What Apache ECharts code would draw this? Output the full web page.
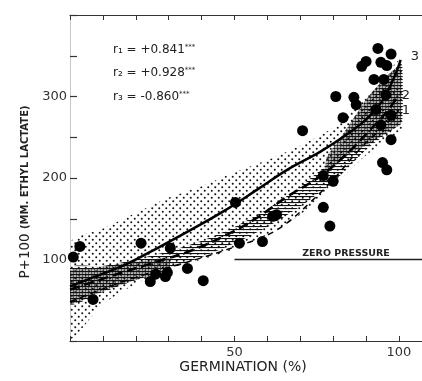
<!DOCTYPE html>
<html><head><meta charset="utf-8">
<script src="https://cdn.jsdelivr.net/npm/echarts@6/dist/echarts.min.js"></script>
<style>html,body{margin:0;padding:0;background:#fff}#c{width:422px;height:381px}</style>
</head><body><div id="c"></div>
<script>
// ---- data ----
const xLabels = ['50', '100'];
const yLabels = ['100', '200', '300'];

// curve 3 (solid)
const c3X = [0, 7, 17, 27, 37, 47, 57, 66, 76, 84, 90, 95, 99, 100.5];
const c3Y = [67, 78, 94, 115, 137, 160, 186, 210, 232, 253, 272, 295, 328, 345];
// curve 2 (long dash)
const c2X = [0, 12, 27, 37.5, 48, 56, 66, 76, 84.5, 90.5, 96, 100];
const c2Y = [63, 79, 98, 112, 131, 149, 177, 202, 231, 256, 280, 302];
// curve 1 (short dash)
const c1X = [0, 10, 20, 30.5, 40, 52, 59, 66, 73, 80, 88, 95, 100];
const c1Y = [48, 64, 78, 91, 102, 118, 128, 145, 170, 198, 235, 262, 283];

// stippled confidence region
const bandX = [0, 10, 20, 30, 40, 50, 60, 70, 80, 90, 100, 101];
const stipHi = [120, 138, 157, 176, 190, 207, 222, 240, 262, 300, 345, 345];
const stipLo = [3, 45, 70, 88, 100, 113, 130, 155, 190, 228, 255, 258];
// hatched band around curve 2
const hatchHi = [90, 92, 100, 110, 123, 140, 162, 190, 225, 290, 335, 338];
const hatchLo = [45, 60, 75, 88, 103, 120, 140, 165, 195, 235, 265, 268];
// dense dark zones
const darkLX = [0, 8, 16, 24, 30];
const darkLHi = [86, 90, 95, 99, 102];
const darkLLo = [46, 58, 70, 79, 85];
const darkRX = [78, 82, 86, 90, 95, 99, 100.5];
const darkRHi = [225, 248, 272, 296, 320, 335, 338];
const darkRLo = [205, 220, 232, 240, 252, 262, 266];

// observations
const germX = [3, 1, 7, 21.6, 30.5, 24.4, 26, 29, 29.6, 35.7, 40.5, 50.3, 51.5, 58.5, 61.6, 62.8,
  77, 80, 77, 79, 70.7, 80.8, 86.3, 87, 83, 97.6, 95, 96.3, 92.4, 93.6, 97.6, 90, 88.7, 94.5, 96.3,
  95.4, 93, 94.5, 96, 97.6];
const pressY = [116, 103, 51, 120, 114, 73, 82, 79, 84, 89, 74, 170, 120, 122, 153, 155,
  203, 196, 164, 141, 258, 300, 299, 290, 274, 247, 219, 210, 321, 359, 352, 343, 337, 342, 338,
  321, 284, 265, 302, 277];

const zeroX = [50, 107];
const zeroY = [100, 100];

// ---- patterns ----
function dotPattern(size, pts, r) {
  const c = document.createElement('canvas'); c.width = c.height = size;
  const g = c.getContext('2d'); g.fillStyle = '#111';
  pts.forEach(p => { g.beginPath(); g.arc(p[0], p[1], r, 0, Math.PI * 2); g.fill(); });
  return c;
}
function hatchPattern() {
  const c = document.createElement('canvas'); c.width = 6; c.height = 3;
  const g = c.getContext('2d'); g.fillStyle = '#111'; g.fillRect(0, 1, 6, 1.1);
  return c;
}
const stip = { image: dotPattern(7, [[1.75, 1.75], [5.25, 5.25]], 1.0), repeat: 'repeat' };
const hatch = { image: hatchPattern(), repeat: 'repeat' };
const dense = { image: dotPattern(3, [[1.5, 1.5]], 1.3), repeat: 'repeat' };

function band(xs, lo, hi, fill, z) {
  return {
    type: 'custom', coordinateSystem: 'cartesian2d', silent: true, z: z, clip: true,
    data: [[xs[0], lo[0]]],
    renderItem: function (params, api) {
      const pts = [];
      for (let i = 0; i < xs.length; i++) pts.push(api.coord([xs[i], hi[i]]));
      for (let i = xs.length - 1; i >= 0; i--) pts.push(api.coord([xs[i], lo[i]]));
      return { type: 'polygon', shape: { points: pts, smooth: 0.25 }, style: { fill: fill } };
    }
  };
}
const zip = (a, b) => a.map((v, i) => [v, b[i]]);

const font = 'DejaVu Sans';
const chart = echarts.init(document.getElementById('c'), null, { renderer: 'canvas' });
chart.setOption({
  animation: false,
  backgroundColor: '#fff',
  grid: { left: 70, right: 0, top: 15, bottom: 40 },
  xAxis: [{
    type: 'value', min: 0, max: 107, interval: 10, position: 'bottom',
    axisLine: { show: true, lineStyle: { color: '#333', width: 1.2 } },
    axisTick: { show: true, inside: true, length: 5, lineStyle: { color: '#333' } },
    splitLine: { show: false },
    axisLabel: {
      margin: 5, fontFamily: font, fontSize: 13, color: '#333', showMaxLabel: false,
      formatter: v => xLabels.includes(String(v)) ? String(v) : ''
    }
  }, {
    type: 'value', min: 0, max: 107, interval: 10, position: 'top',
    axisLine: { show: true, lineStyle: { color: '#333', width: 1.2 } },
    axisTick: { show: true, inside: true, length: 5, lineStyle: { color: '#333' } },
    splitLine: { show: false }, axisLabel: { show: false }
  }],
  yAxis: {
    type: 'value', min: 0, max: 400, interval: 50,
    axisLine: { show: true, lineStyle: { color: '#c8c8c8', width: 1 } },
    axisTick: { show: true, inside: true, length: 7, lineStyle: { color: '#333', width: 1.2 } },
    splitLine: { show: false },
    axisLabel: {
      margin: 3, fontFamily: font, fontSize: 13, color: '#333',
      formatter: v => yLabels.includes(String(v)) ? String(v) : ''
    }
  },
  graphic: [
    { type: 'text', x: 25, y: 192, rotation: Math.PI / 2, style: {
      text: '{a|P+100 }{b|(MM. ETHYL LACTATE)}', align: 'center', verticalAlign: 'middle',
      rich: { a: { fontFamily: font, fontSize: 13.5, fill: '#222' },
              b: { fontFamily: font, fontSize: 10, fontWeight: 'bold', fill: '#222' } } } },
    { type: 'text', x: 243, y: 367, style: { text: 'GERMINATION (%)', align: 'center', verticalAlign: 'middle',
      fontFamily: font, fontSize: 14, fill: '#222' } },
    { type: 'text', x: 346, y: 254, style: { text: 'ZERO PRESSURE', align: 'center', verticalAlign: 'middle',
      fontFamily: font, fontSize: 9.5, fontWeight: 'bold', fill: '#222' } },
    { type: 'text', x: 113, y: 50, style: { text: '{t|r₁ = +0.841}{s|***}', verticalAlign: 'middle',
      rich: { t: { fontFamily: font, fontSize: 12, fill: '#222' }, s: { fontFamily: font, fontSize: 7, fill: '#222', verticalAlign: 'top' } } } },
    { type: 'text', x: 113, y: 73, style: { text: '{t|r₂ = +0.928}{s|***}', verticalAlign: 'middle',
      rich: { t: { fontFamily: font, fontSize: 12, fill: '#222' }, s: { fontFamily: font, fontSize: 7, fill: '#222', verticalAlign: 'top' } } } },
    { type: 'text', x: 113, y: 97, style: { text: '{t|r₃ = -0.860}{s|***}', verticalAlign: 'middle',
      rich: { t: { fontFamily: font, fontSize: 12, fill: '#222' }, s: { fontFamily: font, fontSize: 7, fill: '#222', verticalAlign: 'top' } } } },
    { type: 'text', x: 415, y: 57, style: { text: '3', align: 'center', verticalAlign: 'middle', fontFamily: font, fontSize: 13, fill: '#222' } },
    { type: 'text', x: 406, y: 96, style: { text: '2', align: 'center', verticalAlign: 'middle', fontFamily: font, fontSize: 13, fill: '#222' } },
    { type: 'text', x: 406, y: 111, style: { text: '1', align: 'center', verticalAlign: 'middle', fontFamily: font, fontSize: 13, fill: '#222' } }
  ],
  series: [
    band(bandX, stipLo, stipHi, stip, 1),
    band(bandX, hatchLo, hatchHi, hatch, 2),
    band(darkLX, darkLLo, darkLHi, dense, 3),
    band(darkRX, darkRLo, darkRHi, dense, 3),
    { type: 'line', data: zip(zeroX, zeroY), symbol: 'none', z: 4, lineStyle: { color: '#222', width: 1.4 } },
    { type: 'line', data: zip(c3X, c3Y), smooth: 0.4, symbol: 'none', z: 4, lineStyle: { color: '#000', width: 2.5 } },
    { type: 'line', data: zip(c2X, c2Y), smooth: 0.4, symbol: 'none', z: 4, lineStyle: { color: '#000', width: 2.5, type: [10, 5] } },
    { type: 'line', data: zip(c1X, c1Y), smooth: 0.4, symbol: 'none', z: 4, lineStyle: { color: '#000', width: 1.5, type: [6, 5] } },
    { type: 'scatter', data: zip(germX, pressY), symbolSize: 11, z: 5, itemStyle: { color: '#000', opacity: 1 } }
  ]
});
</script>
</body></html>
